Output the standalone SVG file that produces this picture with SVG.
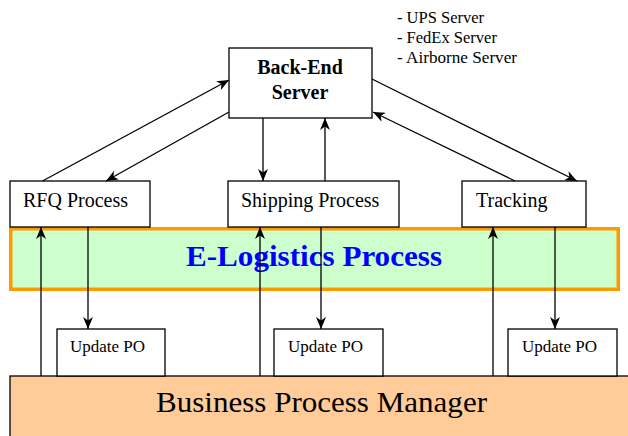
<svg xmlns="http://www.w3.org/2000/svg" width="628" height="436" viewBox="0 0 628 436">
<defs>
<style>
.box{fill:#ffffff;stroke:#000000;stroke-width:1.3}
.t{font-family:"Liberation Serif","Times New Roman",serif;fill:#000000}
.c{stroke:#000000;stroke-width:1.3;fill:none;marker-end:url(#ah)}
</style>
<marker id="ah" viewBox="0 0 12 10" refX="12" refY="5" markerWidth="12" markerHeight="10" orient="auto" markerUnits="userSpaceOnUse">
<path d="M0,0 L12,5 L0,10 L3.5,5 z" fill="#000000"/>
</marker>
</defs>
<rect width="628" height="436" fill="#ffffff"/>
<g id="note">
<text class="t" x="397" y="23" font-size="16.5">- UPS Server</text>
<text class="t" x="397" y="43" font-size="16.5">- FedEx Server</text>
<text class="t" x="397" y="63" font-size="16.5" textLength="120" lengthAdjust="spacingAndGlyphs">- Airborne Server</text>
</g>
<g id="elogistics">
<rect x="10.75" y="228.75" width="607.5" height="60.5" fill="#ccffcc" stroke="#ff9900" stroke-width="3.5"/>
<text class="t" x="186" y="266" font-size="30" font-weight="bold" style="fill:#0000ff" textLength="256" lengthAdjust="spacingAndGlyphs">E-Logistics Process</text>
</g>
<g id="bpm">
<rect x="10" y="376" width="630" height="70" fill="#ffcc99" stroke="#000000" stroke-width="1.3"/>
<text class="t" x="156" y="412" font-size="30" textLength="331" lengthAdjust="spacingAndGlyphs">Business Process Manager</text>
</g>
<g id="backend">
<rect class="box" x="229" y="48" width="143" height="70"/>
<text class="t" x="300" y="74" font-size="20" font-weight="bold" text-anchor="middle">Back-End</text>
<text class="t" x="300" y="99" font-size="20" font-weight="bold" text-anchor="middle">Server</text>
</g>
<g id="rfq">
<rect class="box" x="10" y="181" width="140" height="46"/>
<text class="t" x="23" y="207" font-size="20">RFQ Process</text>
</g>
<g id="shipping">
<rect class="box" x="228" y="181" width="171" height="46"/>
<text class="t" x="241" y="207" font-size="20">Shipping Process</text>
</g>
<g id="tracking">
<rect class="box" x="462" y="181" width="124" height="46"/>
<text class="t" x="476" y="207" font-size="20">Tracking</text>
</g>
<g id="updpo1">
<rect class="box" x="57" y="329" width="108" height="47"/>
<text class="t" x="70" y="352" font-size="17">Update PO</text>
</g>
<g id="updpo2">
<rect class="box" x="274" y="329" width="109" height="47"/>
<text class="t" x="288" y="352" font-size="17">Update PO</text>
</g>
<g id="updpo3">
<rect class="box" x="508" y="329" width="109" height="47"/>
<text class="t" x="522" y="352" font-size="17">Update PO</text>
</g>
<g id="connectors">
<line class="c" x1="42.5" y1="181" x2="229" y2="80"/>
<line class="c" x1="229" y1="112" x2="106" y2="181"/>
<line class="c" x1="263" y1="118" x2="263" y2="181"/>
<line class="c" x1="325" y1="181" x2="325" y2="118"/>
<line class="c" x1="372" y1="79" x2="577" y2="181"/>
<line class="c" x1="515" y1="181" x2="373" y2="112"/>
<line class="c" x1="41" y1="376" x2="41" y2="227"/>
<line class="c" x1="88" y1="227" x2="88" y2="329"/>
<line class="c" x1="260" y1="376" x2="260" y2="227"/>
<line class="c" x1="321" y1="227" x2="321" y2="329"/>
<line class="c" x1="493" y1="376" x2="493" y2="227"/>
<line class="c" x1="555" y1="227" x2="555" y2="329"/>
</g>
</svg>
